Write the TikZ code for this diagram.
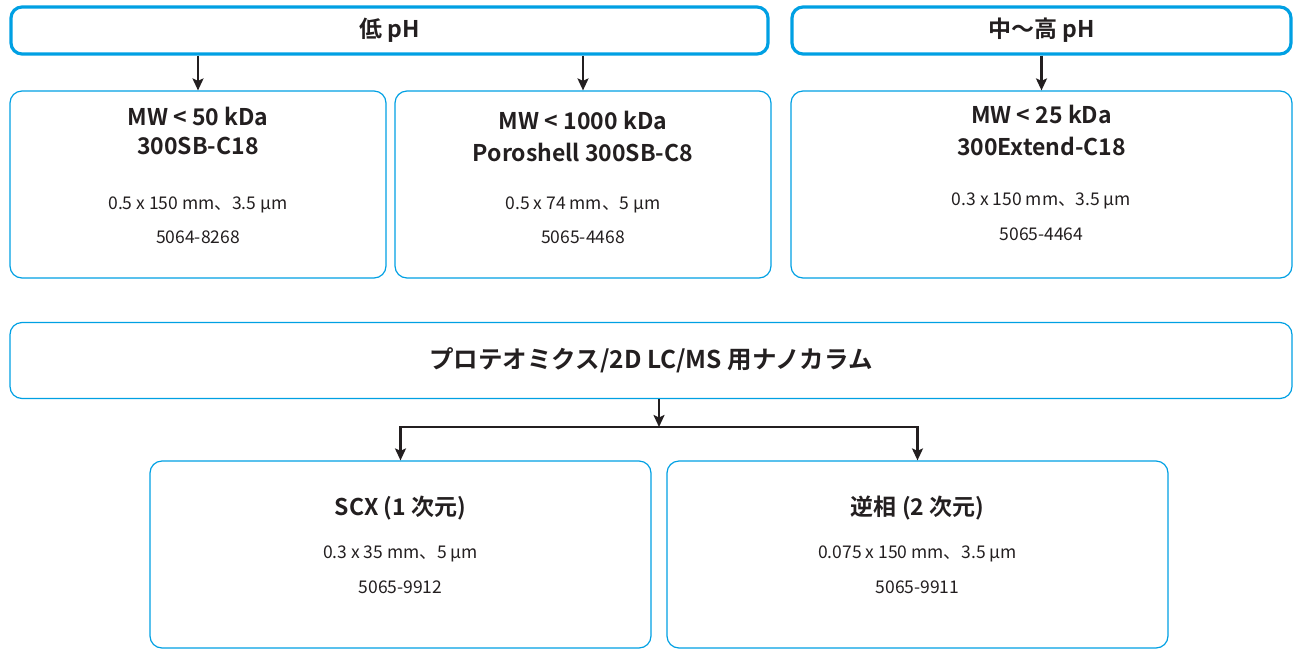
\documentclass[tikz,border=0pt]{standalone}
\usepackage{fontspec}
\setmainfont{Noto Sans CJK JP}[BoldFont={Noto Sans CJK JP Bold}]
\usetikzlibrary{arrows.meta}
\definecolor{agblue}{RGB}{0,160,227}
\definecolor{ink}{RGB}{35,31,32}

\begin{document}
\begin{tikzpicture}
[x=1pt, y=-1pt,
 phbox/.style={draw=agblue, line width=3.2pt, rounded corners=11pt, minimum height=47pt},
 colbox/.style={draw=agblue, line width=1.2pt, rounded corners=12pt, minimum height=187pt},
 ttl/.style={text=ink, font=\bfseries\fontsize{23}{27}\selectfont},
 spec/.style={text=ink, font=\fontsize{17.5}{21}\selectfont},
 arr/.style={draw=ink, line width=2.2pt, -{Stealth[length=12pt,width=11pt,inset=2.5pt]}}]
\useasboundingbox (0,0) rectangle (1294,649);
\node [phbox, ttl, minimum width=757pt] (lowph) at (389.5,30.5) {低 pH};
\node [phbox, ttl, minimum width=499pt] (midph) at (1041.5,30.5) {中〜高 pH};
\node [colbox, minimum width=376pt] (box1) at (198,184.5) {};
\node [colbox, minimum width=376pt] (box2) at (583,184.5) {};
\node [colbox, minimum width=501pt] (box3) at (1041.5,184.5) {};
\node [draw=agblue, line width=1.2pt, rounded corners=12pt, minimum width=1282pt, minimum height=76pt, ttl, font=\bfseries\fontsize{24.5}{28}\selectfont] (prot) at (651,360.5) {プロテオミクス/2D LC/MS 用ナノカラム};
\node [colbox, minimum width=501pt] (scx) at (400.5,554.5) {};
\node [colbox, minimum width=501pt] (rp) at (917.5,554.5) {};
\node [ttl] (mw1) at (198,116) {MW < 50 kDa};
\node [ttl] (col1) at (198,146) {300SB-C18};
\node [spec] (dim1) at (198,205) {0.5 x 150 mm、3.5 µm};
\node [spec] (pn1) at (198,237) {5064-8268};
\node [ttl] (mw2) at (583,120) {MW < 1000 kDa};
\node [ttl] (col2) at (583,152) {Poroshell 300SB-C8};
\node [spec] (dim2) at (583,205) {0.5 x 74 mm、5 µm};
\node [spec] (pn2) at (583,237) {5065-4468};
\node [ttl] (mw3) at (1041.5,114) {MW < 25 kDa};
\node [ttl] (col3) at (1041.5,146) {300Extend-C18};
\node [spec] (dim3) at (1041.5,201) {0.3 x 150 mm、3.5 µm};
\node [spec] (pn3) at (1041.5,234) {5065-4464};
\node [ttl] (scxttl) at (400.5,508) {SCX (1 次元)};
\node [spec] (scxdim) at (400.5,554) {0.3 x 35 mm、5 µm};
\node [spec] (scxpn) at (400.5,587) {5065-9912};
\node [ttl] (rpttl) at (917.5,508) {逆相 (2 次元)};
\node [spec] (rpdim) at (917.5,554) {0.075 x 150 mm、3.5 µm};
\node [spec] (rppn) at (917.5,587) {5065-9911};
\draw [arr] (lowph.south -| box1.north) -- (box1.north);
\draw [arr] (lowph.south -| box2.north) -- (box2.north);
\draw [arr] (midph.south -| box3.north) -- (box3.north);
\coordinate (split) at (659,427);
\draw [arr] (prot.south -| split) -- (split);
\draw [arr] (split) -| (scx.north);
\draw [arr] (split) -| (rp.north);
\end{tikzpicture}
\end{document}
